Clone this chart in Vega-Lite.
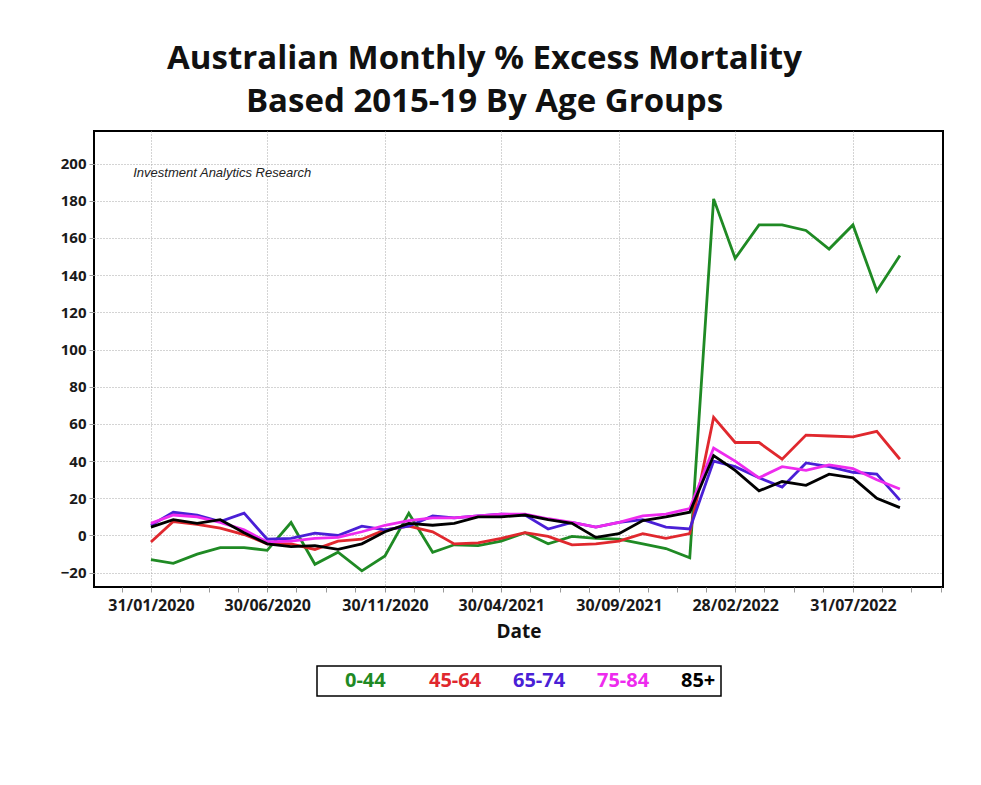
{
  "$schema": "https://vega.github.io/schema/vega-lite/v6.json",
  "autosize": {"type": "none"},
  "width": 849,
  "height": 456,
  "padding": {"left": 94, "top": 131, "right": 38, "bottom": 198},
  "background": "white",
  "title": {
    "text": ["Australian Monthly % Excess Mortality", "Based 2015-19 By Age Groups"],
    "font": "Open Sans",
    "fontSize": 33,
    "fontWeight": "bold",
    "color": "#111",
    "lineHeight": 43,
    "anchor": "middle",
    "frame": "group",
    "dx": -34,
    "offset": 12
  },
  "datasets": {
    "mortality": [
      {"date": "2020-01-31", "group": "0-44", "value": -13},
      {"date": "2020-02-29", "group": "0-44", "value": -15},
      {"date": "2020-03-31", "group": "0-44", "value": -10},
      {"date": "2020-04-30", "group": "0-44", "value": -6.5},
      {"date": "2020-05-31", "group": "0-44", "value": -6.5},
      {"date": "2020-06-30", "group": "0-44", "value": -8},
      {"date": "2020-07-31", "group": "0-44", "value": 7},
      {"date": "2020-08-31", "group": "0-44", "value": -15.5},
      {"date": "2020-09-30", "group": "0-44", "value": -9},
      {"date": "2020-10-31", "group": "0-44", "value": -19},
      {"date": "2020-11-30", "group": "0-44", "value": -11},
      {"date": "2020-12-31", "group": "0-44", "value": 12},
      {"date": "2021-01-31", "group": "0-44", "value": -9},
      {"date": "2021-02-28", "group": "0-44", "value": -5},
      {"date": "2021-03-31", "group": "0-44", "value": -5.5},
      {"date": "2021-04-30", "group": "0-44", "value": -3},
      {"date": "2021-05-31", "group": "0-44", "value": 1.5},
      {"date": "2021-06-30", "group": "0-44", "value": -4.5},
      {"date": "2021-07-31", "group": "0-44", "value": -0.5},
      {"date": "2021-08-31", "group": "0-44", "value": -1.5},
      {"date": "2021-09-30", "group": "0-44", "value": -2},
      {"date": "2021-10-31", "group": "0-44", "value": -4.5},
      {"date": "2021-11-30", "group": "0-44", "value": -7},
      {"date": "2021-12-31", "group": "0-44", "value": -12},
      {"date": "2022-01-31", "group": "0-44", "value": 181},
      {"date": "2022-02-28", "group": "0-44", "value": 149},
      {"date": "2022-03-31", "group": "0-44", "value": 167},
      {"date": "2022-04-30", "group": "0-44", "value": 167},
      {"date": "2022-05-31", "group": "0-44", "value": 164},
      {"date": "2022-06-30", "group": "0-44", "value": 154},
      {"date": "2022-07-31", "group": "0-44", "value": 167},
      {"date": "2022-08-31", "group": "0-44", "value": 131.5},
      {"date": "2022-09-30", "group": "0-44", "value": 150.5},

      {"date": "2020-01-31", "group": "45-64", "value": -3.5},
      {"date": "2020-02-29", "group": "45-64", "value": 7.5},
      {"date": "2020-03-31", "group": "45-64", "value": 6},
      {"date": "2020-04-30", "group": "45-64", "value": 4},
      {"date": "2020-05-31", "group": "45-64", "value": 0.5},
      {"date": "2020-06-30", "group": "45-64", "value": -4.5},
      {"date": "2020-07-31", "group": "45-64", "value": -4.5},
      {"date": "2020-08-31", "group": "45-64", "value": -7.5},
      {"date": "2020-09-30", "group": "45-64", "value": -3},
      {"date": "2020-10-31", "group": "45-64", "value": -2},
      {"date": "2020-11-30", "group": "45-64", "value": 3},
      {"date": "2020-12-31", "group": "45-64", "value": 5},
      {"date": "2021-01-31", "group": "45-64", "value": 2},
      {"date": "2021-02-28", "group": "45-64", "value": -4.5},
      {"date": "2021-03-31", "group": "45-64", "value": -4},
      {"date": "2021-04-30", "group": "45-64", "value": -1.5},
      {"date": "2021-05-31", "group": "45-64", "value": 1.5},
      {"date": "2021-06-30", "group": "45-64", "value": -0.5},
      {"date": "2021-07-31", "group": "45-64", "value": -5},
      {"date": "2021-08-31", "group": "45-64", "value": -4.5},
      {"date": "2021-09-30", "group": "45-64", "value": -3},
      {"date": "2021-10-31", "group": "45-64", "value": 1},
      {"date": "2021-11-30", "group": "45-64", "value": -1.5},
      {"date": "2021-12-31", "group": "45-64", "value": 1},
      {"date": "2022-01-31", "group": "45-64", "value": 63.5},
      {"date": "2022-02-28", "group": "45-64", "value": 50},
      {"date": "2022-03-31", "group": "45-64", "value": 50},
      {"date": "2022-04-30", "group": "45-64", "value": 41},
      {"date": "2022-05-31", "group": "45-64", "value": 54},
      {"date": "2022-06-30", "group": "45-64", "value": 53.5},
      {"date": "2022-07-31", "group": "45-64", "value": 53},
      {"date": "2022-08-31", "group": "45-64", "value": 56},
      {"date": "2022-09-30", "group": "45-64", "value": 41},

      {"date": "2020-01-31", "group": "65-74", "value": 5.5},
      {"date": "2020-02-29", "group": "65-74", "value": 12.5},
      {"date": "2020-03-31", "group": "65-74", "value": 11},
      {"date": "2020-04-30", "group": "65-74", "value": 7.5},
      {"date": "2020-05-31", "group": "65-74", "value": 12},
      {"date": "2020-06-30", "group": "65-74", "value": -2},
      {"date": "2020-07-31", "group": "65-74", "value": -1.5},
      {"date": "2020-08-31", "group": "65-74", "value": 1.3},
      {"date": "2020-09-30", "group": "65-74", "value": 0},
      {"date": "2020-10-31", "group": "65-74", "value": 5},
      {"date": "2020-11-30", "group": "65-74", "value": 3},
      {"date": "2020-12-31", "group": "65-74", "value": 5},
      {"date": "2021-01-31", "group": "65-74", "value": 10.5},
      {"date": "2021-02-28", "group": "65-74", "value": 9.5},
      {"date": "2021-03-31", "group": "65-74", "value": 10.5},
      {"date": "2021-04-30", "group": "65-74", "value": 11.5},
      {"date": "2021-05-31", "group": "65-74", "value": 11},
      {"date": "2021-06-30", "group": "65-74", "value": 3.5},
      {"date": "2021-07-31", "group": "65-74", "value": 7},
      {"date": "2021-08-31", "group": "65-74", "value": 4.5},
      {"date": "2021-09-30", "group": "65-74", "value": 7},
      {"date": "2021-10-31", "group": "65-74", "value": 8.5},
      {"date": "2021-11-30", "group": "65-74", "value": 4.5},
      {"date": "2021-12-31", "group": "65-74", "value": 3.5},
      {"date": "2022-01-31", "group": "65-74", "value": 40},
      {"date": "2022-02-28", "group": "65-74", "value": 37},
      {"date": "2022-03-31", "group": "65-74", "value": 31},
      {"date": "2022-04-30", "group": "65-74", "value": 26},
      {"date": "2022-05-31", "group": "65-74", "value": 39},
      {"date": "2022-06-30", "group": "65-74", "value": 37},
      {"date": "2022-07-31", "group": "65-74", "value": 34},
      {"date": "2022-08-31", "group": "65-74", "value": 33},
      {"date": "2022-09-30", "group": "65-74", "value": 19},

      {"date": "2020-01-31", "group": "75-84", "value": 6.5},
      {"date": "2020-02-29", "group": "75-84", "value": 11},
      {"date": "2020-03-31", "group": "75-84", "value": 10},
      {"date": "2020-04-30", "group": "75-84", "value": 7},
      {"date": "2020-05-31", "group": "75-84", "value": 3},
      {"date": "2020-06-30", "group": "75-84", "value": -3.5},
      {"date": "2020-07-31", "group": "75-84", "value": -3},
      {"date": "2020-08-31", "group": "75-84", "value": -1.5},
      {"date": "2020-09-30", "group": "75-84", "value": -1},
      {"date": "2020-10-31", "group": "75-84", "value": 2},
      {"date": "2020-11-30", "group": "75-84", "value": 5.5},
      {"date": "2020-12-31", "group": "75-84", "value": 8},
      {"date": "2021-01-31", "group": "75-84", "value": 9.5},
      {"date": "2021-02-28", "group": "75-84", "value": 9.5},
      {"date": "2021-03-31", "group": "75-84", "value": 10.5},
      {"date": "2021-04-30", "group": "75-84", "value": 11.5},
      {"date": "2021-05-31", "group": "75-84", "value": 11.5},
      {"date": "2021-06-30", "group": "75-84", "value": 9},
      {"date": "2021-07-31", "group": "75-84", "value": 7},
      {"date": "2021-08-31", "group": "75-84", "value": 4.5},
      {"date": "2021-09-30", "group": "75-84", "value": 7},
      {"date": "2021-10-31", "group": "75-84", "value": 10.5},
      {"date": "2021-11-30", "group": "75-84", "value": 11.5},
      {"date": "2021-12-31", "group": "75-84", "value": 14.5},
      {"date": "2022-01-31", "group": "75-84", "value": 47},
      {"date": "2022-02-28", "group": "75-84", "value": 40},
      {"date": "2022-03-31", "group": "75-84", "value": 31},
      {"date": "2022-04-30", "group": "75-84", "value": 37},
      {"date": "2022-05-31", "group": "75-84", "value": 35},
      {"date": "2022-06-30", "group": "75-84", "value": 38},
      {"date": "2022-07-31", "group": "75-84", "value": 36},
      {"date": "2022-08-31", "group": "75-84", "value": 30},
      {"date": "2022-09-30", "group": "75-84", "value": 25},

      {"date": "2020-01-31", "group": "85+", "value": 4.5},
      {"date": "2020-02-29", "group": "85+", "value": 8.5},
      {"date": "2020-03-31", "group": "85+", "value": 6.5},
      {"date": "2020-04-30", "group": "85+", "value": 8.5},
      {"date": "2020-05-31", "group": "85+", "value": 1.5},
      {"date": "2020-06-30", "group": "85+", "value": -4.5},
      {"date": "2020-07-31", "group": "85+", "value": -6},
      {"date": "2020-08-31", "group": "85+", "value": -5.5},
      {"date": "2020-09-30", "group": "85+", "value": -7.5},
      {"date": "2020-10-31", "group": "85+", "value": -4.5},
      {"date": "2020-11-30", "group": "85+", "value": 2},
      {"date": "2020-12-31", "group": "85+", "value": 6.5},
      {"date": "2021-01-31", "group": "85+", "value": 5.5},
      {"date": "2021-02-28", "group": "85+", "value": 6.5},
      {"date": "2021-03-31", "group": "85+", "value": 10},
      {"date": "2021-04-30", "group": "85+", "value": 10},
      {"date": "2021-05-31", "group": "85+", "value": 11},
      {"date": "2021-06-30", "group": "85+", "value": 8.5},
      {"date": "2021-07-31", "group": "85+", "value": 6.5},
      {"date": "2021-08-31", "group": "85+", "value": -1},
      {"date": "2021-09-30", "group": "85+", "value": 1},
      {"date": "2021-10-31", "group": "85+", "value": 8},
      {"date": "2021-11-30", "group": "85+", "value": 10},
      {"date": "2021-12-31", "group": "85+", "value": 12.5},
      {"date": "2022-01-31", "group": "85+", "value": 43},
      {"date": "2022-02-28", "group": "85+", "value": 35},
      {"date": "2022-03-31", "group": "85+", "value": 24},
      {"date": "2022-04-30", "group": "85+", "value": 29},
      {"date": "2022-05-31", "group": "85+", "value": 27},
      {"date": "2022-06-30", "group": "85+", "value": 33},
      {"date": "2022-07-31", "group": "85+", "value": 31},
      {"date": "2022-08-31", "group": "85+", "value": 20},
      {"date": "2022-09-30", "group": "85+", "value": 15}
    ],
    "note": [
      {"date": "2020-01-08", "value": 195, "label": "Investment Analytics Research"}
    ]
  },
  "layer": [
    {
      "data": {"name": "mortality"},
      "mark": {"type": "line", "strokeWidth": 2.8, "strokeJoin": "miter", "clip": true},
      "encoding": {
        "x": {
          "field": "date",
          "type": "temporal",
          "scale": {"type": "utc", "domain": ["2019-11-18", "2022-11-25"]},
          "axis": {
            "title": "Date",
            "format": "%d/%m/%Y",
            "values": [
              {"year": 2020, "month": 1, "date": 31, "utc": true},
              {"year": 2020, "month": 6, "date": 30, "utc": true},
              {"year": 2020, "month": 11, "date": 30, "utc": true},
              {"year": 2021, "month": 4, "date": 30, "utc": true},
              {"year": 2021, "month": 9, "date": 30, "utc": true},
              {"year": 2022, "month": 2, "date": 28, "utc": true},
              {"year": 2022, "month": 7, "date": 31, "utc": true}
            ],
            "grid": true,
            "labelFontSize": 16,
            "labelPadding": 5,
            "tickSize": 5,
            "titleFontSize": 19,
            "titlePadding": 9
          }
        },
        "y": {
          "field": "value",
          "type": "quantitative",
          "scale": {"domain": [-27.7, 217.5], "nice": false, "zero": false},
          "axis": {
            "title": null,
            "grid": true,
            "values": [-20, 0, 20, 40, 60, 80, 100, 120, 140, 160, 180, 200],
            "labelFontSize": 15,
            "labelPadding": 3,
            "tickSize": 5
          }
        },
        "color": {
          "field": "group",
          "type": "nominal",
          "scale": {
            "domain": ["0-44", "45-64", "65-74", "75-84", "85+"],
            "range": ["#1f8a24", "#e0282e", "#4a1fd6", "#ee2bee", "#000000"]
          },
          "legend": {
            "title": null,
            "orient": "none",
            "legendX": 223,
            "legendY": 535,
            "direction": "horizontal",
            "columns": 5,
            "gridAlign": "all",
            "columnPadding": 8,
            "padding": 5,
            "symbolSize": 0,
            "symbolOpacity": 0,
            "symbolStrokeWidth": 0,
            "labelOffset": 3,
            "labelFont": "Open Sans",
            "labelFontSize": 20,
            "labelFontWeight": "bold",
            "labelLimit": 200,
            "fillColor": "white",
            "strokeColor": "black",
            "encode": {
              "labels": {"update": {"fill": {"scale": "color", "field": "value"}}},
              "legend": {"update": {"strokeWidth": {"value": 1.5}}}
            }
          }
        }
      }
    },
    {
      "mark": {"type": "rule", "color": "black", "strokeWidth": 1.5},
      "encoding": {"y": {"datum": 0, "type": "quantitative"}}
    },
    {
      "data": {"name": "note"},
      "mark": {"type": "text", "align": "left", "baseline": "middle", "font": "Liberation Sans", "fontStyle": "italic", "fontSize": 13, "color": "#222"},
      "encoding": {
        "x": {
          "field": "date",
          "type": "temporal",
          "axis": {
            "orient": "bottom",
            "title": null,
            "labels": false,
            "grid": false,
            "domain": false,
            "tickSize": 5,
            "values": [
              {"year": 2019, "month": 12, "date": 24, "utc": true},
              {"year": 2020, "month": 3, "date": 9, "utc": true},
              {"year": 2020, "month": 4, "date": 16, "utc": true},
              {"year": 2020, "month": 5, "date": 23, "utc": true},
              {"year": 2020, "month": 8, "date": 7, "utc": true},
              {"year": 2020, "month": 9, "date": 14, "utc": true},
              {"year": 2020, "month": 10, "date": 22, "utc": true},
              {"year": 2021, "month": 1, "date": 7, "utc": true},
              {"year": 2021, "month": 2, "date": 14, "utc": true},
              {"year": 2021, "month": 3, "date": 23, "utc": true},
              {"year": 2021, "month": 6, "date": 7, "utc": true},
              {"year": 2021, "month": 7, "date": 15, "utc": true},
              {"year": 2021, "month": 8, "date": 22, "utc": true},
              {"year": 2021, "month": 11, "date": 7, "utc": true},
              {"year": 2021, "month": 12, "date": 15, "utc": true},
              {"year": 2022, "month": 1, "date": 21, "utc": true},
              {"year": 2022, "month": 4, "date": 7, "utc": true},
              {"year": 2022, "month": 5, "date": 15, "utc": true},
              {"year": 2022, "month": 6, "date": 22, "utc": true},
              {"year": 2022, "month": 9, "date": 7, "utc": true},
              {"year": 2022, "month": 10, "date": 15, "utc": true},
              {"year": 2022, "month": 11, "date": 22, "utc": true}
            ]
          }
        },
        "y": {"field": "value", "type": "quantitative"},
        "text": {"field": "label"}
      }
    }
  ],
  "resolve": {"axis": {"x": "independent"}},
  "config": {
    "view": {"stroke": "black", "strokeWidth": 2},
    "font": "Open Sans",
    "axis": {
      "labelFont": "Open Sans",
      "labelFontWeight": "bold",
      "labelColor": "#1a1a1a",
      "titleFont": "Open Sans",
      "titleFontWeight": "bold",
      "titleColor": "#111",
      "domain": false,
      "tickColor": "#9a9a9a",
      "tickWidth": 1,
      "gridColor": "#a8a8a8",
      "gridDash": [1, 2],
      "gridWidth": 1
    }
  }
}
